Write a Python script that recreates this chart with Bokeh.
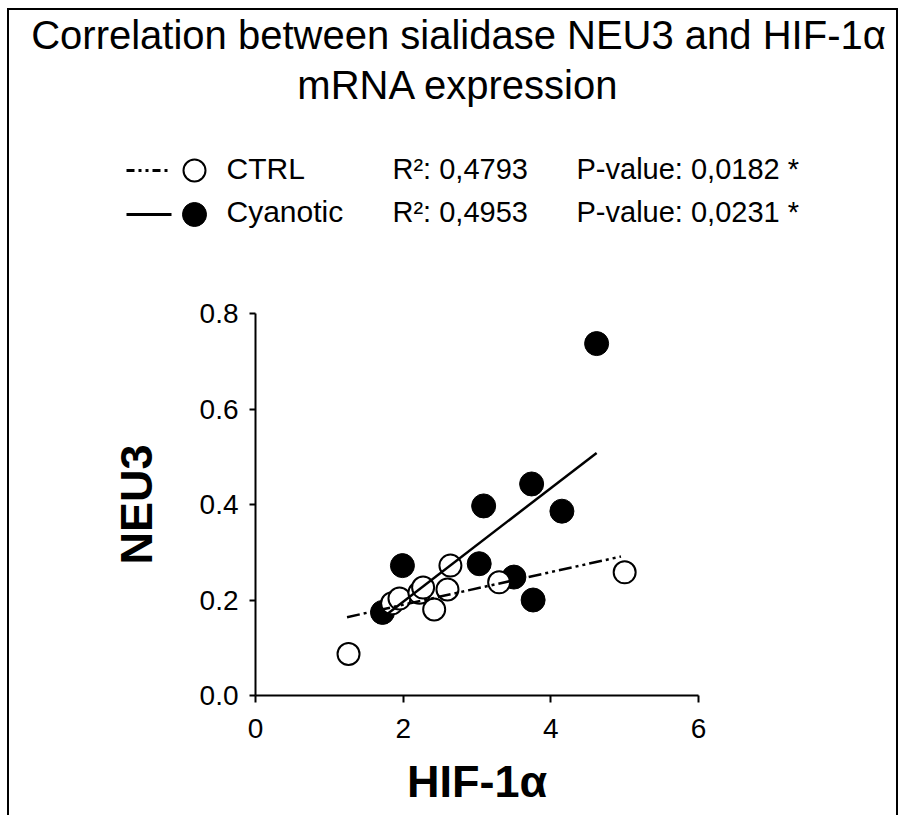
from bokeh.plotting import figure
from bokeh.layouts import column
from bokeh.models import Range1d, FixedTicker, Label, CustomJSTickFormatter
from bokeh.embed import file_html
from bokeh.resources import INLINE

# ---------------- data ----------------
ctrl_x = [1.26, 1.85, 1.95, 2.22, 2.27, 2.42, 2.60, 2.64, 3.30, 5.00]
ctrl_y = [0.087, 0.193, 0.203, 0.215, 0.226, 0.180, 0.222, 0.272, 0.237, 0.258]
cyan_x = [1.72, 1.99, 3.03, 3.09, 3.50, 3.74, 3.76, 4.15, 4.62]
cyan_y = [0.174, 0.272, 0.276, 0.397, 0.248, 0.443, 0.200, 0.386, 0.737]
ctrl_fit_x = [1.24, 4.95]
ctrl_fit_y = [0.164, 0.291]
cyan_fit_x = [1.71, 4.62]
cyan_fit_y = [0.162, 0.508]
series_names = ["CTRL", "Cyanotic"]
r2_texts = ["R\u00b2: 0,4793", "R\u00b2: 0,4953"]
p_texts = ["P-value: 0,0182 *", "P-value: 0,0231 *"]
x_ticks = [0, 2, 4, 6]
y_ticks = [0.0, 0.2, 0.4, 0.6, 0.8]
title_lines = ["Correlation between sialidase NEU3 and HIF-1\u03b1", "mRNA expression"]
x_label = "HIF-1\u03b1"
y_label = "NEU3"

FONT = "Liberation Sans"
CTRL_DASH = "13 4 3 4 3 4"

# ---------------- layout (page pixels) ----------------
OX, OY = 9, 10          # content origin inside the bordered box
W = 887                 # content width
HT = 280                # header height
HB = 525                # chart height
FRAME_L, FRAME_T, FRAME_W, FRAME_H = 255, 313, 443, 382   # page px
BORDER = "2px solid black"

# ---------------- header: title + legend ----------------
top = figure(width=W, height=HT, output_backend="svg", toolbar_location=None,
             x_range=Range1d(OX, OX + W), y_range=Range1d(OY + HT, OY),
             x_axis_type=None, y_axis_type=None,
             min_border=0, min_border_left=0, min_border_right=0,
             min_border_top=0, min_border_bottom=0)
top.outline_line_color = None
top.grid.visible = False

for txt, base in zip(title_lines, [34, 84]):
    top.add_layout(Label(x=458, y=base, text=txt, text_align="center",
                         text_baseline="alphabetic", text_font=FONT,
                         text_font_size="40px", text_color="black"))

row_y = [170, 214]
# legend keys
top.line([126, 169], [row_y[0], row_y[0]], line_color="black", line_width=3,
         line_dash="8 4 3 4 3 4")
top.line([126, 171], [row_y[1], row_y[1]], line_color="black", line_width=3)
top.scatter([194], [row_y[0]], size=22, marker="circle", fill_color="white",
            line_color="black", line_width=2)
top.scatter([194], [row_y[1]], size=24, marker="circle", fill_color="black",
            line_color="black")
for i, base in enumerate([168, 211]):
    top.add_layout(Label(x=226, y=base, text=series_names[i], text_align="left",
                         text_baseline="alphabetic", text_font=FONT,
                         text_font_size="30px", text_color="black"))
    top.add_layout(Label(x=392, y=base, text=r2_texts[i], text_align="left",
                         text_baseline="alphabetic", text_font=FONT,
                         text_font_size="29px", text_color="black"))
    top.add_layout(Label(x=576, y=base, text=p_texts[i], text_align="left",
                         text_baseline="alphabetic", text_font=FONT,
                         text_font_size="29px", text_color="black"))

# ---------------- chart ----------------
fl = FRAME_L - OX
ft = FRAME_T - (OY + HT)
p = figure(width=W, height=HB, output_backend="svg", toolbar_location=None,
           x_range=Range1d(0, 6), y_range=Range1d(0, 0.8),
           min_border_left=fl, min_border_top=ft,
           min_border_right=W - fl - FRAME_W, min_border_bottom=HB - ft - FRAME_H)
p.outline_line_color = None
p.grid.visible = False

for ax in (p.xaxis[0], p.yaxis[0]):
    ax.axis_line_width = 2
    ax.major_tick_line_width = 2
    ax.major_tick_in = 0
    ax.minor_tick_line_color = None
    ax.major_label_text_font = FONT
    ax.major_label_text_font_size = "28px"
    ax.major_label_text_color = "black"
    ax.axis_label_text_font = FONT
    ax.axis_label_text_font_style = "bold"
    ax.axis_label_text_font_size = "45px"
    ax.axis_label_text_color = "black"

p.xaxis.ticker = FixedTicker(ticks=x_ticks)
p.yaxis.ticker = FixedTicker(ticks=y_ticks)
p.xaxis.major_tick_out = 7
p.yaxis.major_tick_out = 6
p.xaxis.major_label_standoff = 16
p.yaxis.major_label_standoff = 11
p.xaxis.formatter = CustomJSTickFormatter(code="return tick.toFixed(0)")
p.yaxis.formatter = CustomJSTickFormatter(code="return tick.toFixed(1)")
p.xaxis.axis_label = x_label
p.yaxis.axis_label = y_label
p.xaxis.axis_label_standoff = 15
p.yaxis.axis_label_standoff = 35

p.scatter(cyan_x, cyan_y, size=24, marker="circle",
          fill_color="black", line_color="black", line_width=1)
p.scatter(ctrl_x, ctrl_y, size=22, marker="circle",
          fill_color="white", line_color="black", line_width=2)
p.line(ctrl_fit_x, ctrl_fit_y, line_color="black", line_width=2.5, line_dash=CTRL_DASH)
p.line(cyan_fit_x, cyan_fit_y, line_color="black", line_width=2.5)

head = column(top, styles={"margin-left": "7px", "margin-top": "8px",
                           "border-top": BORDER, "border-left": BORDER,
                           "border-right": BORDER})
body = column(p, styles={"margin-left": "7px",
                         "border-left": BORDER, "border-right": BORDER})

open("out.html", "w").write(file_html([head, body], INLINE))
